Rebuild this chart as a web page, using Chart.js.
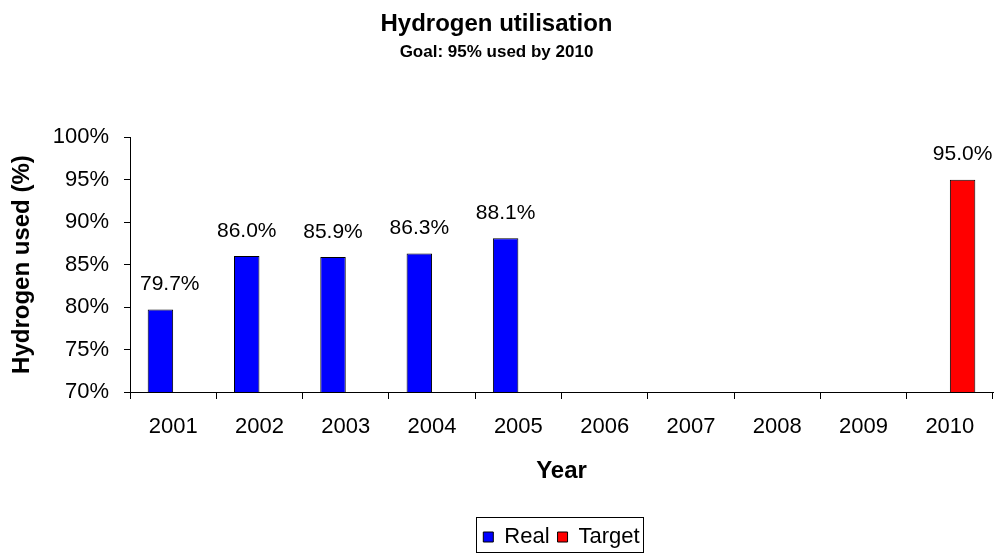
<!DOCTYPE html>
<html lang="en">
<head>
    <meta charset="UTF-8">
    <title>Hydrogen utilisation</title>
    <script src="https://cdn.jsdelivr.net/npm/chart.js"></script>
    <style>
        body {
            margin: 0;
            padding: 0;
            background: white;
        }
        .chart-box {
            width: 994px;
            height: 554px;
        }
    </style>
</head>
<body>
    <div class="chart-box">
        <canvas id="h2Chart" width="994" height="554"></canvas>
    </div>

    <script>
        // chart data
        const years = ['2001', '2002', '2003', '2004', '2005', '2006', '2007', '2008', '2009', '2010'];
        const realValues = [79.7, 86.0, 85.9, 86.3, 88.1, null, null, null, null, null];
        const targetValues = [null, null, null, null, null, null, null, null, null, 95.0];
        const yTicks = [70, 75, 80, 85, 90, 95, 100];

        const FONT = "'Liberation Sans', Arial, sans-serif";

        // value labels above each bar (kept clear of the y axis)
        const barLabels = {
            id: 'barLabels',
            afterDatasetsDraw(chart) {
                const c = chart.ctx;
                c.save();
                c.font = '21px ' + FONT;
                c.fillStyle = '#000';
                c.textAlign = 'center';
                c.textBaseline = 'middle';
                chart.data.datasets.forEach((ds, i) => {
                    chart.getDatasetMeta(i).data.forEach((bar, j) => {
                        const v = ds.data[j];
                        if (v === null) return;
                        const txt = v.toFixed(1) + '%';
                        const half = c.measureText(txt).width / 2;
                        const x = Math.max(bar.x, chart.chartArea.left + 10 + half);
                        c.fillText(txt, x, bar.y - 25);
                    });
                });
                c.restore();
            }
        };

        // thin frame round the legend, like excel
        const legendFrame = {
            id: 'legendFrame',
            afterDraw(chart) {
                const boxes = chart.legend.legendHitBoxes;
                if (!boxes || !boxes.length) return;
                const minX = Math.min(...boxes.map(b => b.left));
                const maxX = Math.max(...boxes.map(b => b.left + b.width));
                const c = chart.ctx;
                c.save();
                c.strokeStyle = '#000';
                c.lineWidth = 1;
                c.strokeRect(Math.round(minX) - 6.5, 517.5, Math.round(maxX - minX) + 11, 35);
                c.restore();
            }
        };

        new Chart(document.getElementById('h2Chart'), {
            type: 'bar',
            data: {
                labels: years,
                datasets: [
                    {
                        label: 'Real',
                        data: realValues,
                        backgroundColor: '#0000FF',
                        borderColor: '#000000',
                        borderWidth: 1,
                        borderSkipped: false
                    },
                    {
                        label: 'Target',
                        data: targetValues,
                        backgroundColor: '#FF0000',
                        borderColor: '#000000',
                        borderWidth: 1,
                        borderSkipped: false
                    }
                ]
            },
            options: {
                responsive: false,
                animation: false,
                layout: { padding: { top: 0, right: 1, bottom: -4, left: 0 } },
                datasets: {
                    bar: { categoryPercentage: 0.59, barPercentage: 1.0 }
                },
                scales: {
                    x: {
                        grid: {
                            offset: true,
                            drawOnChartArea: false,
                            color: '#000',
                            tickLength: 7
                        },
                        border: { color: '#000', width: 1 },
                        ticks: {
                            color: '#000',
                            font: { family: FONT, size: 22 },
                            padding: 15,
                            maxRotation: 0
                        },
                        title: {
                            display: true,
                            text: 'Year',
                            color: '#000',
                            font: { family: FONT, size: 24, weight: 'bold' },
                            padding: { top: 0, bottom: 32 }
                        },
                        afterFit(scale) { scale.height = 126; }
                    },
                    y: {
                        min: 70,
                        max: 100,
                        afterBuildTicks(scale) {
                            scale.ticks = yTicks.map(v => ({ value: v }));
                        },
                        grid: {
                            drawOnChartArea: false,
                            color: '#000',
                            tickLength: 6
                        },
                        border: { color: '#000', width: 1 },
                        ticks: {
                            color: '#000',
                            font: { family: FONT, size: 22 },
                            padding: 15,
                            callback: v => v + '%'
                        },
                        title: {
                            display: true,
                            text: 'Hydrogen used (%)',
                            color: '#000',
                            font: { family: FONT, size: 24, weight: 'bold' },
                            padding: { top: 8, bottom: 0 }
                        },
                        afterFit(scale) { scale.width = 130; }
                    }
                },
                plugins: {
                    title: {
                        display: true,
                        text: 'Hydrogen utilisation',
                        color: '#000',
                        font: { family: FONT, size: 24, weight: 'bold' },
                        padding: { top: 10, bottom: 0 }
                    },
                    subtitle: {
                        display: true,
                        text: 'Goal: 95% used by 2010',
                        color: '#000',
                        font: { family: FONT, size: 17, weight: 'bold' },
                        padding: { top: 3, bottom: 75 }
                    },
                    legend: {
                        position: 'bottom',
                        fullSize: false,
                        labels: {
                            color: '#000',
                            font: { family: FONT, size: 22 },
                            boxWidth: 10,
                            boxHeight: 10,
                            padding: 8
                        }
                    },
                    tooltip: { enabled: false }
                }
            },
            plugins: [barLabels, legendFrame]
        });
    </script>
</body>
</html>
